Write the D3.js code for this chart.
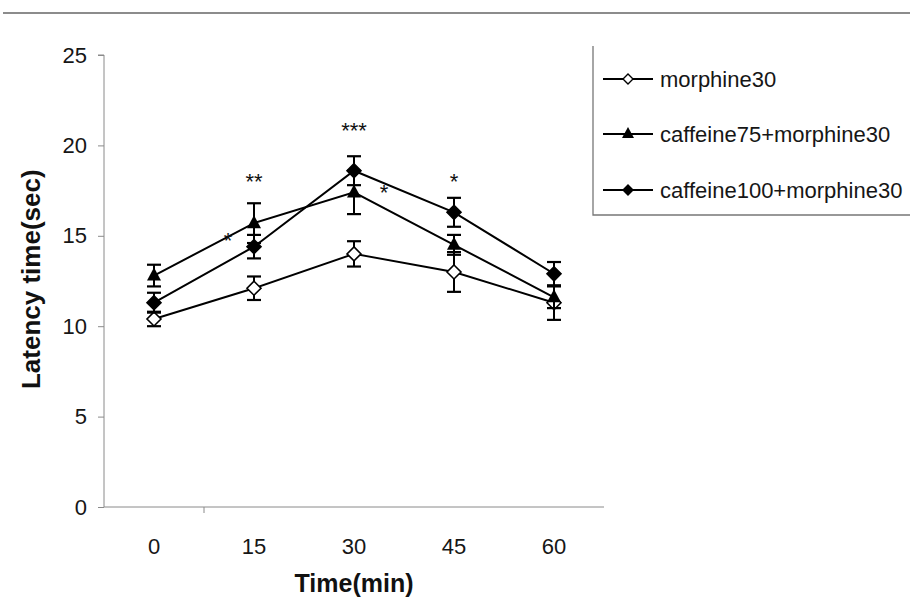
<!DOCTYPE html>
<html>
<head>
<meta charset="utf-8">
<script src="https://cdn.jsdelivr.net/npm/d3@7"></script>
<style>
  html, body { margin: 0; padding: 0; background: #fff; }
  svg { display: block; font-family: "Liberation Sans", Arial, sans-serif; }
</style>
</head>
<body>
<svg id="chart" width="910" height="599"></svg>
<script>
// Time points (min)
const times = ["0", "15", "30", "45", "60"];
// Mean latency (sec) per group
const morphine30 = [10.4, 12.1, 14.0, 13.0, 11.3];
const caffeine75 = [12.8, 15.7, 17.4, 14.5, 11.6];
const caffeine100 = [11.3, 14.4, 18.6, 16.3, 12.9];
// Standard error per group
const morphine30Err = [0.4, 0.65, 0.7, 1.1, 0.95];
const caffeine75Err = [0.6, 1.1, 1.2, 0.55, 0.6];
const caffeine100Err = [0.55, 0.65, 0.8, 0.8, 0.65];
// Y axis ticks
const yTicks = [0, 5, 10, 15, 20, 25];
// Significance marks: [time, value height, text]
const sigMarks = [
  ["15", 14.8, "*"],
  ["15", 18.1, "**"],
  ["30", 20.9, "***"],
  ["30", 17.5, "*"],
  ["45", 18.1, "*"]
];

const series = [
  { name: "morphine30", values: morphine30, err: morphine30Err, shape: "diamondOpen" },
  { name: "caffeine75+morphine30", values: caffeine75, err: caffeine75Err, shape: "triangle" },
  { name: "caffeine100+morphine30", values: caffeine100, err: caffeine100Err, shape: "diamond" }
];

const svg = d3.select("#chart");
const axisColor = "#8a8a8a";
const textColor = "#161616";

// top rule
svg.append("line").attr("x1", 3).attr("x2", 910).attr("y1", 13).attr("y2", 13)
  .attr("stroke", "#8c8c8c").attr("stroke-width", 2);

const x = d3.scaleBand().domain(times).range([104, 604]);
const y = d3.scaleLinear().domain([0, 25]).range([507, 55]);
const cx = t => x(t) + x.bandwidth() / 2;

// y axis
const gy = svg.append("g").attr("transform", "translate(104,0)")
  .call(d3.axisLeft(y).tickValues(yTicks).tickSize(6).tickPadding(11));
gy.select(".domain").attr("stroke", axisColor).attr("d", `M-6,${y(25)}H0V${y(0)}`);
gy.selectAll(".tick line").attr("stroke", axisColor);
gy.selectAll(".tick text").attr("font-size", 22).attr("fill", textColor)
  .attr("font-family", "Liberation Sans, Arial, sans-serif");

// x axis
const gx = svg.append("g").attr("transform", `translate(0,${y(0)})`)
  .call(d3.axisBottom(x).tickSize(0).tickPadding(31));
gx.select(".domain").attr("stroke", axisColor).attr("d", `M104,0H604`);
gx.selectAll(".tick text").attr("font-size", 22).attr("fill", textColor)
  .attr("font-family", "Liberation Sans, Arial, sans-serif");
// category separator tick
gx.append("line").attr("x1", x(times[1])).attr("x2", x(times[1]))
  .attr("y1", 0).attr("y2", 6).attr("stroke", axisColor);

// axis titles
svg.append("text").attr("x", cx("30")).attr("y", 592).attr("text-anchor", "middle")
  .attr("font-size", 25).attr("font-weight", "bold").attr("fill", "#111")
  .text("Time(min)");
svg.append("text").attr("transform", `translate(40,${y(12.6)}) rotate(-90)`)
  .attr("text-anchor", "middle").attr("font-size", 26).attr("font-weight", "bold")
  .attr("fill", "#111").text("Latency time(sec)");

// marker drawing
function drawMarker(g, shape, px, py) {
  if (shape === "triangle") {
    g.append("path").attr("d", `M${px},${py - 8}L${px + 7},${py + 5}L${px - 7},${py + 5}Z`)
      .attr("fill", "#000");
  } else {
    const s = 7;
    g.append("path").attr("d", `M${px},${py - s}L${px + s},${py}L${px},${py + s}L${px - s},${py}Z`)
      .attr("fill", shape === "diamond" ? "#000" : "#fff")
      .attr("stroke", "#000").attr("stroke-width", 1.6);
  }
}

const line = d3.line().x((d, i) => cx(times[i])).y(d => y(d));

series.forEach(s => {
  const g = svg.append("g");
  // error bars
  s.values.forEach((v, i) => {
    const px = cx(times[i]);
    const e = s.err[i];
    g.append("line").attr("x1", px).attr("x2", px).attr("y1", y(v - e)).attr("y2", y(v + e))
      .attr("stroke", "#000").attr("stroke-width", 2);
    [v - e, v + e].forEach(w => {
      g.append("line").attr("x1", px - 7).attr("x2", px + 7).attr("y1", y(w)).attr("y2", y(w))
        .attr("stroke", "#000").attr("stroke-width", 2.2);
    });
  });
  g.append("path").datum(s.values).attr("d", line).attr("fill", "none")
    .attr("stroke", "#000").attr("stroke-width", 2);
  s.values.forEach((v, i) => drawMarker(g, s.shape, cx(times[i]), y(v)));
});

// significance stars
const sigOffset = { "15|14.8": -26, "30|17.5": 30 };
sigMarks.forEach(([t, v, txt]) => {
  const dx = sigOffset[t + "|" + v] || 0;
  svg.append("text").attr("x", cx(t) + dx).attr("y", y(v) + 9)
    .attr("text-anchor", "middle").attr("font-size", 22).attr("fill", "#111").text(txt);
});

// legend
const lg = svg.append("g");
lg.append("path").attr("d", "M593,46V215H912").attr("fill", "none")
  .attr("stroke", "#777").attr("stroke-width", 1.3);
const legendY = [79, 134, 190];
series.forEach((s, i) => {
  const ly = legendY[i];
  lg.append("line").attr("x1", 603).attr("x2", 653).attr("y1", ly).attr("y2", ly)
    .attr("stroke", "#000").attr("stroke-width", 1.8);
  const mg = lg.append("g");
  if (s.shape === "triangle") {
    mg.append("path").attr("d", `M628,${ly - 7}L634,${ly + 4}L622,${ly + 4}Z`).attr("fill", "#000");
  } else {
    mg.append("path").attr("d", `M628,${ly - 5}L633,${ly}L628,${ly + 5}L623,${ly}Z`)
      .attr("fill", s.shape === "diamond" ? "#000" : "#fff").attr("stroke", "#000").attr("stroke-width", 1.4);
  }
  lg.append("text").attr("x", 660).attr("y", ly + 8).attr("font-size", 22)
    .attr("fill", textColor).text(s.name);
});
</script>
</body>
</html>
